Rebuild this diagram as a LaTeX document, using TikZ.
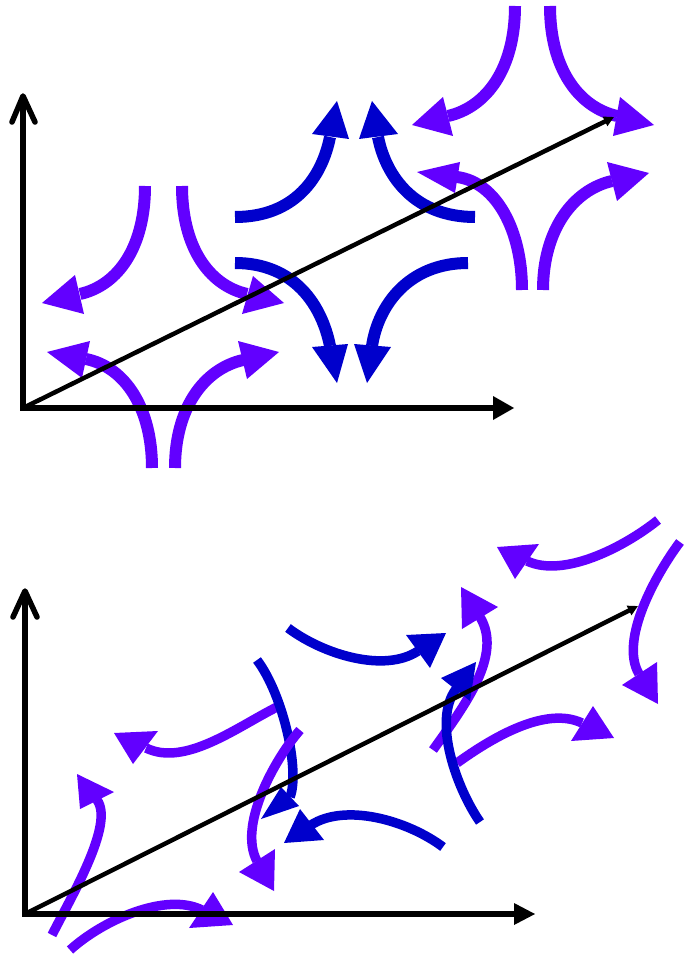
\documentclass[tikz,border=0pt]{standalone}
\usetikzlibrary{arrows.meta}
\definecolor{vio}{HTML}{6200FF}
\definecolor{dblue}{HTML}{0000CC}
\tikzset{
  pu/.style={draw=vio, line width=12pt},
  bu/.style={draw=dblue, line width=12pt},
  pus/.style={draw=vio, line width=9.5pt},
  bus/.style={draw=dblue, line width=9.5pt},
  axisline/.style={draw=black, line width=5.5pt},
  diag/.style={draw=black, line width=4.5pt, -{Triangle[length=10pt,width=10pt]}}
}
\begin{document}
\begin{tikzpicture}[x=1pt,y=-1pt]
\useasboundingbox (0,0) rectangle (687,957);
% ================= TOP PANEL =================
% middle blue group
\draw[bu] (235,217) .. controls (295,217) and (322,177) .. (330,137);
\fill[dblue] (337,101) -- (312,134) -- (349,139) -- cycle;
\draw[bu] (475,217) .. controls (415,217) and (386,177) .. (378,137);
\fill[dblue] (372,101) -- (359,139) -- (398,134) -- cycle;
\draw[bu] (235,263) .. controls (295,263) and (322,306) .. (330,346);
\fill[dblue] (337,383) -- (312,347) -- (348,344) -- cycle;
\draw[bu] (468,263) .. controls (408,263) and (378,306) .. (372,346);
\fill[dblue] (367,383) -- (354,344) -- (391,347) -- cycle;
% left purple group
\draw[pu] (145,186) .. controls (145,246) and (119,285) .. (80,294);
\fill[vio] (42,303) -- (75,275) -- (84,314) -- cycle;
\draw[pu] (182,186) .. controls (182,246) and (208,285) .. (247,294);
\fill[vio] (284,303) -- (253,276) -- (242,314) -- cycle;
\draw[pu] (152,468) .. controls (152,408) and (125,367) .. (86,359);
\fill[vio] (47,352) -- (90,341) -- (82,378) -- cycle;
\draw[pu] (175,468) .. controls (175,408) and (204,369) .. (243,360);
\fill[vio] (279,352) -- (238,341) -- (247,379) -- cycle;
% right purple group
\draw[pu] (515,6) .. controls (515,68) and (487,107) .. (448,116);
\fill[vio] (412,125) -- (443,97) -- (453,136) -- cycle;
\draw[pu] (550,6) .. controls (550,68) and (578,107) .. (617,116);
\fill[vio] (654,125) -- (620,97) -- (613,136) -- cycle;
\draw[pu] (522,290) .. controls (522,230) and (496,182) .. (457,177);
\fill[vio] (417,172) -- (460,162) -- (455,193) -- cycle;
\draw[pu] (543,290) .. controls (543,230) and (573,190) .. (612,181);
\fill[vio] (649,173) -- (607,162) -- (617,201) -- cycle;
% diagonal and axes
\coordinate (o1) at (23,408);
\coordinate (d1) at (614,117);
\draw[diag] (o1) -- (d1);
\coordinate (v1) at (23,97);
\coordinate (h1) at (497,408);
\draw[axisline] (23,410.5) -- (v1);
\draw[axisline, line cap=round, line join=round] (12,122) -- (23,96) -- (35,122);
\draw[axisline] (20.5,408) -- (h1);
\fill (514,408) -- (493,396) -- (493,420) -- cycle;
% ================= BOTTOM PANEL =================
% purple groups (under blue)
\draw[pus] (277,707) .. controls (237,727) and (185,767) .. (146,748);
\fill[vio] (114,733) -- (158,731) -- (133,764) -- cycle;
\draw[pus] (52,935) .. controls (70,899) and (115,824) .. (97,800);
\fill[vio] (77,774) -- (114,792) -- (80,809) -- cycle;
\draw[pus] (70,950) .. controls (103,920) and (166,892) .. (202,910);
\fill[vio] (233,925) -- (189,928) -- (213,892) -- cycle;
\draw[pus] (658,520) .. controls (623,548) and (563,578) .. (527,561);
\fill[vio] (497,547) -- (539,544) -- (515,579) -- cycle;
\draw[pus] (433,750) .. controls (465,705) and (503,655) .. (480,617);
\fill[vio] (461,587) -- (498,607) -- (462,629) -- cycle;
\draw[pus] (680,542) .. controls (656,574) and (619,640) .. (639,674);
\fill[vio] (658,704) -- (622,685) -- (657,662) -- cycle;
\draw[pus] (457,763) .. controls (493,737) and (546,706) .. (582,723);
\fill[vio] (614,738) -- (571,741) -- (593,706) -- cycle;
% blue group
\draw[bus] (288,628) .. controls (324,655) and (385,673) .. (418,651);
\fill[dblue] (446,633) -- (406,635) -- (430,668) -- cycle;
\draw[bus] (257,660) .. controls (284,696) and (300,772) .. (290,797);
\fill[dblue] (261,819) -- (281,787) -- (299,806) -- cycle;
\draw[bus] (443,847) .. controls (407,820) and (345,803) .. (311,825);
\fill[dblue] (284,843) -- (300,809) -- (324,840) -- cycle;
\draw[bus] (480,822) .. controls (457,789) and (432,721) .. (456,689);
\fill[dblue] (476,662) -- (441,678) -- (470,701) -- cycle;
% purple arc over blue
\draw[pus] (300,730) .. controls (274,760) and (238,826) .. (257,861);
\fill[vio] (274,891) -- (239,872) -- (275,849) -- cycle;
% diagonal and axes
\coordinate (o2) at (25,914);
\coordinate (d2) at (638,606);
\draw[diag] (o2) -- (d2);
\coordinate (v2) at (25,592);
\coordinate (h2) at (518,914);
\draw[axisline] (25,916.5) -- (v2);
\draw[axisline, line cap=round, line join=round] (13,617) -- (25,591) -- (37,617);
\draw[axisline] (22.5,914) -- (h2);
\fill (535,914) -- (514,903) -- (514,925) -- cycle;
\end{tikzpicture}
\end{document}
